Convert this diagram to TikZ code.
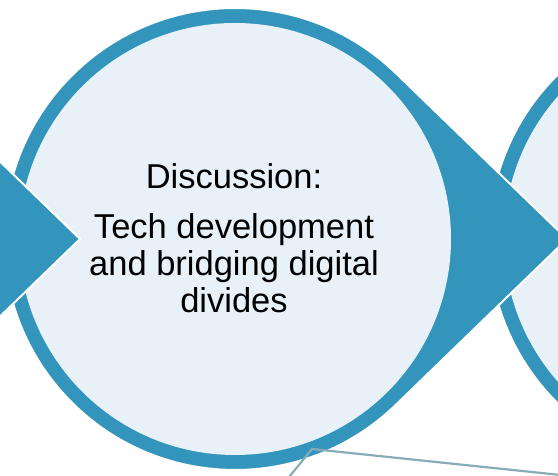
\documentclass[tikz,border=0pt]{standalone}
\usepackage{fontspec}
\setmainfont{Liberation Sans}
\usepackage{tikz}
\usetikzlibrary{calc}
\definecolor{discblue}{RGB}{51,149,187}
\definecolor{discfill}{RGB}{232,241,247}
\definecolor{calloutgrey}{RGB}{135,172,182}
% disc with its arrow tip, centre given
\def\arrowdisc(#1){%
	\fill[discblue, draw=white, line width=2pt] ($(#1)+(45.9:231pt)$) -- ($(#1)+(332pt,0)$) -- ($(#1)+(-45.9:231pt)$) arc[start angle=-45.9, end angle=-314.1, radius=231pt] -- cycle;
	\fill[discfill] (#1) circle (216pt);}

\begin{document}
\begin{tikzpicture}[x=1pt, y=1pt]
		%%%%% START %%%%%
		
		\useasboundingbox (0, 0) rectangle (558, 476);
		\clip (0, 0) rectangle (558, 476);
		
		\arrowdisc(720, 237)
		\arrowdisc(235, 237)
		\arrowdisc(-252, 237)
		
		\node[anchor=base, font=\fontsize{34.5}{37}\selectfont] (title) at (234, 287) {Discussion:};
		\node[anchor=base, font=\fontsize{34.5}{37}\selectfont] (lineA) at (234, 237) {Tech development};
		\node[anchor=base, font=\fontsize{34.5}{37}\selectfont] (lineB) at (234, 200) {and bridging digital};
		\node[anchor=base, font=\fontsize{34.5}{37}\selectfont] (lineC) at (234, 163) {divides};
		
		\coordinate (calloutL) at (285, -6);
		\coordinate (calloutT) at (312, 27);
		\coordinate (calloutR) at (570, 0);
		\draw[line width=2.2pt, color=calloutgrey] (calloutL) -- (calloutT) -- (calloutR);
		
		%%%%% END %%%%%
	\end{tikzpicture}
\end{document}
